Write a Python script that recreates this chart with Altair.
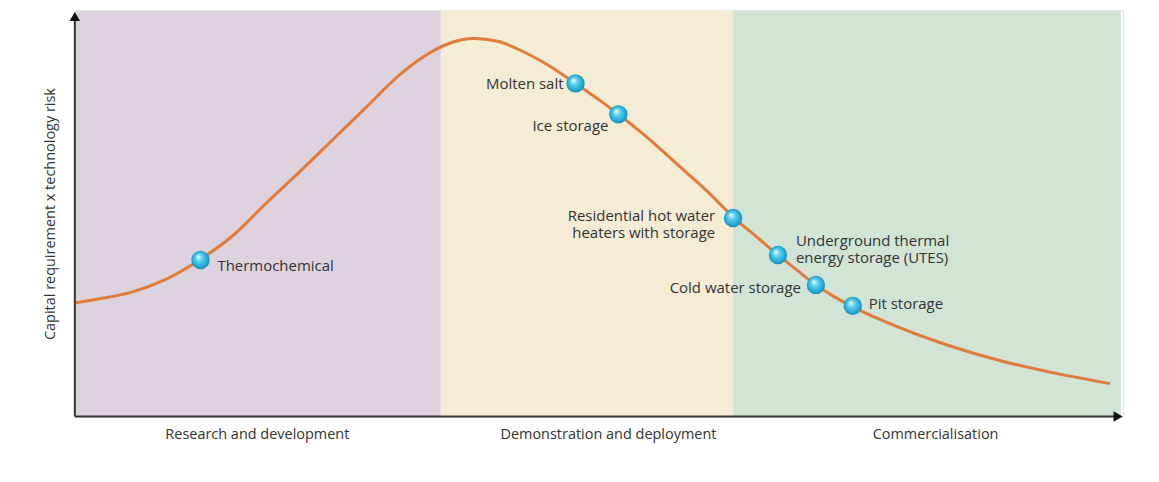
import altair as alt
import pandas as pd

# ---- data (x: development stage, y: capital requirement x technology risk) ----
band_names = ["Research and development", "Demonstration and deployment", "Commercialisation"]
band_start = [0, 367, 660]
band_end = [367, 660, 1049]
band_colors = ["#ddd3de", "#f4ecd4", "#d1e4d6"]
band_label_x = [183, 535, 863]
band_label_y = [-19, -19, -19]

curve_x = [1, 25, 58, 90, 125, 158, 192, 225, 258, 292, 325, 350, 375, 400, 425, 445,
           475, 502, 525, 545, 575, 605, 635, 660, 685, 705, 725, 743, 760, 780, 825,
           865, 932, 985, 1038]
curve_y = [114, 118, 125, 137, 157, 181, 214, 245, 277, 310, 342, 361, 374, 379, 376, 368,
           352, 334, 318, 303, 279, 252, 225, 200, 179, 162, 146, 132, 121, 110, 90,
           75, 55, 43, 33]

tech_names = ["Thermochemical", "Molten salt", "Ice storage",
              "Residential hot water\nheaters with storage",
              "Underground thermal\nenergy storage (UTES)",
              "Cold water storage", "Pit storage"]
tech_x = [126, 502, 545, 660, 705, 743, 780]
tech_y = [157, 334, 303, 199, 162, 132, 111]
label_x = [143, 490, 535, 642, 723, 728, 796]
label_y = [151, 333, 291, 201, 176, 129, 113]
label_side = ["left", "right", "right", "right", "left", "right", "left"]

X_MAX = 1051
Y_MAX = 407

bands = pd.DataFrame({"name": band_names, "start": band_start, "end": band_end,
                      "color": band_colors, "lx": band_label_x, "ly": band_label_y})
curve = pd.DataFrame({"x": curve_x, "y": curve_y})
techs = pd.DataFrame({"name": tech_names, "x": tech_x, "y": tech_y,
                      "lx": label_x, "ly": label_y, "side": label_side})

xs = alt.Scale(domain=[0, X_MAX], nice=False, zero=False)
ys = alt.Scale(domain=[0, Y_MAX], nice=False, zero=False)

FONT = "Open Sans"
TXT = "#333333"

band_rects = alt.Chart(bands).mark_rect().encode(
    x=alt.X("start:Q", scale=xs, axis=None),
    x2="end:Q",
    y=alt.datum(0, scale=ys),
    y2=alt.datum(Y_MAX),
    color=alt.Color("color:N", scale=None),
)

band_text = alt.Chart(bands).mark_text(font=FONT, fontSize=14.5, color=TXT).encode(
    x=alt.X("lx:Q", scale=xs),
    y=alt.Y("ly:Q", scale=ys),
    text="name:N",
)

line = alt.Chart(curve).mark_line(color="#e07b3c", strokeWidth=3, interpolate="monotone").encode(
    x=alt.X("x:Q", scale=xs),
    y=alt.Y("y:Q", scale=ys, axis=alt.Axis(
        title="Capital requirement x technology risk", domain=False, ticks=False,
        labels=False, grid=False, titlePadding=17, titleFont=FONT,
        titleFontSize=14.5, titleFontWeight="normal", titleColor=TXT)),
)

sphere = alt.Gradient(
    gradient="radial",
    stops=[alt.GradientStop(color="#f2fdff", offset=0),
           alt.GradientStop(color="#5fd0ec", offset=0.35),
           alt.GradientStop(color="#22a9d3", offset=0.75),
           alt.GradientStop(color="#1485ad", offset=1)],
    x1=0.38, y1=0.32, r1=0.0, x2=0.5, y2=0.5, r2=0.55,
)

dots = alt.Chart(techs).mark_point(filled=True, fill=sphere, size=340, opacity=1,
                                   strokeWidth=0).encode(
    x=alt.X("x:Q", scale=xs),
    y=alt.Y("y:Q", scale=ys),
)

labels_left = alt.Chart(techs).transform_filter(alt.datum.side == "left").mark_text(
    font=FONT, fontSize=15, color=TXT, align="left", baseline="middle", lineBreak="\n",
    lineHeight=17).encode(
    x=alt.X("lx:Q", scale=xs), y=alt.Y("ly:Q", scale=ys), text="name:N")

labels_right = alt.Chart(techs).transform_filter(alt.datum.side == "right").mark_text(
    font=FONT, fontSize=15, color=TXT, align="right", baseline="middle", lineBreak="\n",
    lineHeight=17).encode(
    x=alt.X("lx:Q", scale=xs), y=alt.Y("ly:Q", scale=ys), text="name:N")

axis_df = pd.DataFrame({"x0": [0, 0], "x1": [0, X_MAX - 8], "y0": [0, 0], "y1": [Y_MAX - 8, 0]})
axis_lines = alt.Chart(axis_df).mark_rule(color="#333333", strokeWidth=2).encode(
    x=alt.X("x0:Q", scale=xs), x2="x1:Q",
    y=alt.Y("y0:Q", scale=ys), y2="y1:Q",
)

heads = pd.DataFrame({"x": [0, X_MAX - 5], "y": [Y_MAX - 6, 0],
                      "shape": ["triangle-up", "triangle-right"]})
arrow_heads = alt.Chart(heads).mark_point(filled=True, color="#111111", size=110,
                                          opacity=1).encode(
    x=alt.X("x:Q", scale=xs), y=alt.Y("y:Q", scale=ys),
    shape=alt.Shape("shape:N", scale=None),
)

chart = alt.layer(band_rects, band_text, line, dots, labels_left, labels_right,
                  axis_lines, arrow_heads).properties(
    width=X_MAX, height=Y_MAX,
    autosize=alt.AutoSizeParams(type="none"),
    padding={"left": 67, "top": 2, "right": 28, "bottom": 55},
).configure_view(stroke=None).configure(background="white")

chart.save("out.html", embed_options={"renderer": "svg", "actions": False})
